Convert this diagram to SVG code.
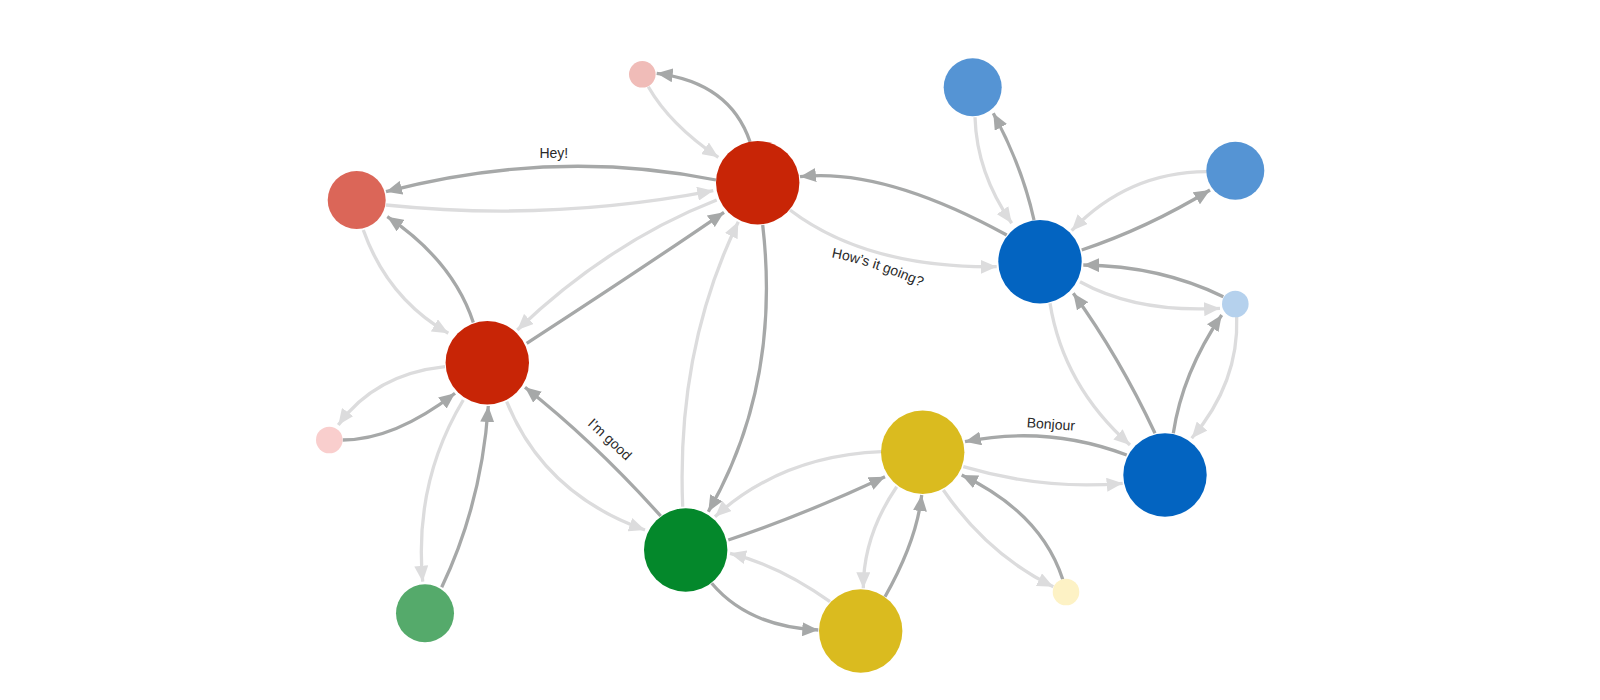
<svg xmlns="http://www.w3.org/2000/svg" width="1600" height="700" viewBox="0 0 1600 700">
<defs>
<style>
.e{fill:none;stroke-width:3.3}
.d{stroke:#a6a8a8;marker-end:url(#ad)}
.l{stroke:#dcdcdd;marker-end:url(#al)}
.t{font-family:"Liberation Sans",Arial,sans-serif;font-size:14px;fill:#2a2a2a}
</style>
<marker id="ad" markerUnits="userSpaceOnUse" markerWidth="16" markerHeight="14" viewBox="0 0 16 14" refX="16" refY="7" orient="auto"><path d="M0,0 L16,7 L0,14 z" fill="#a6a8a8"/></marker>
<marker id="al" markerUnits="userSpaceOnUse" markerWidth="16" markerHeight="14" viewBox="0 0 16 14" refX="16" refY="7" orient="auto"><path d="M0,0 L16,7 L0,14 z" fill="#dcdcdd"/></marker>
<path id="lp" d="M824,256 Q872,264 928,290"/>
</defs>
<rect width="1600" height="700" fill="#fff"/>
<g id="connectors">
<path class="e d" d="M716,180 Q555,147.5 386,191.7"/>
<path class="e l" d="M386,205 Q550.3,222.1 713.3,190.7"/>
<path class="e d" d="M750,141.7 Q730,82.5 656.7,73.3"/>
<path class="e l" d="M648.3,86.7 Q670,124.7 718.3,157.3"/>
<path class="e l" d="M716.7,200 Q609.7,241.7 517.3,330"/>
<path class="e d" d="M526.7,343.3 Q641.4,268.9 724,212.3"/>
<path class="e d" d="M473.3,322.5 Q453,260.8 387.3,216.7"/>
<path class="e l" d="M363.3,230 Q387.5,298.3 448.3,333.3"/>
<path class="e l" d="M445,366.7 Q375,374.2 338.3,425"/>
<path class="e d" d="M342.7,440 Q394.5,440 455,393.3"/>
<path class="e l" d="M463.3,400 Q413.7,482.5 422.7,581.7"/>
<path class="e d" d="M441.7,587.3 Q481.7,503.3 488.3,406"/>
<path class="e l" d="M506.7,401.7 Q544.2,494.2 645,530"/>
<path class="e d" d="M660.7,516 Q593.9,441.7 525,387.3"/>
<path class="e d" d="M762.7,225 Q781.2,385 708.3,511.7"/>
<path class="e l" d="M682.7,506.7 Q676.2,349.2 738.3,221.7"/>
<path class="e d" d="M1006.7,235 Q883.3,167.5 800,176.7"/>
<path class="e l" d="M790,210 Q866.7,268.3 996.7,266.7"/>
<path class="e d" d="M1034,220 Q1022.3,166.7 993.3,113.3"/>
<path class="e l" d="M975,117.3 Q976.7,173 1011.7,223.3"/>
<path class="e d" d="M1081.7,250 Q1147.5,228 1210,190"/>
<path class="e l" d="M1206.7,171.7 Q1127.5,172.2 1071.7,230.7"/>
<path class="e d" d="M1223.3,296.7 Q1160,265.8 1083.3,265"/>
<path class="e l" d="M1080,281.7 Q1136.7,313 1220,308.3"/>
<path class="e l" d="M1050,303.3 Q1063.3,385.8 1130,445"/>
<path class="e d" d="M1155,433.3 Q1119.1,356.7 1073.3,293.3"/>
<path class="e d" d="M1173.3,433.3 Q1182.5,372.5 1221.7,315"/>
<path class="e l" d="M1236.7,316.7 Q1239.1,382.5 1191.7,438.3"/>
<path class="e d" d="M1126.7,455 Q1047.5,425 965,441.7"/>
<path class="e l" d="M963.3,466.7 Q1043.7,490.3 1122.7,483.3"/>
<path class="e l" d="M881.7,451.7 Q781.7,455.8 715,516.7"/>
<path class="e d" d="M728.3,540 Q803.3,515 885,476.7"/>
<path class="e d" d="M711.7,583.3 Q748.3,626.7 818.3,630"/>
<path class="e l" d="M830,601.7 Q780,565.8 730,553.3"/>
<path class="e l" d="M896.7,486.7 Q863.3,535.8 863.3,588.3"/>
<path class="e d" d="M885,596.7 Q916.7,540.8 921.7,495"/>
<path class="e l" d="M943.3,490 Q988.3,555 1053.3,586.7"/>
<path class="e d" d="M1062.7,579.3 Q1041.1,512.8 961.7,475"/>
<text class="t" x="553.8" y="158.3" text-anchor="middle">Hey!</text>
<text class="t" text-anchor="middle"><textPath href="#lp" startOffset="50%">How’s it going?</textPath></text>
<text class="t" text-anchor="middle" transform="translate(606.6,442.7) rotate(43)">I’m good</text>
<text class="t" text-anchor="middle" transform="translate(1050.5,429) rotate(4)">Bonjour</text>
</g>
<g id="n-red-top"><circle cx="757.7" cy="182.7" r="41.7" fill="#c82506"/></g>
<g id="n-salmon"><circle cx="356.7" cy="200" r="29" fill="#db6658"/></g>
<g id="n-pink-top"><circle cx="642.3" cy="74.3" r="13.3" fill="#f0bcb8"/></g>
<g id="n-red-mid"><circle cx="487.3" cy="362.7" r="41.7" fill="#c82506"/></g>
<g id="n-pink-left"><circle cx="329.3" cy="440" r="13.3" fill="#f9cecd"/></g>
<g id="n-green-light"><circle cx="425" cy="613.3" r="29" fill="#55aa6b"/></g>
<g id="n-green"><circle cx="685.7" cy="550" r="41.7" fill="#04882b"/></g>
<g id="n-blue"><circle cx="1040" cy="261.7" r="41.7" fill="#0364c1"/></g>
<g id="n-blue-tl"><circle cx="972.7" cy="87.3" r="29" fill="#5594d4"/></g>
<g id="n-blue-r"><circle cx="1235.3" cy="170.7" r="29" fill="#5594d4"/></g>
<g id="n-blue-pale"><circle cx="1235.3" cy="304" r="13.3" fill="#b5d1ed"/></g>
<g id="n-blue-low"><circle cx="1165" cy="475" r="41.7" fill="#0364c1"/></g>
<g id="n-yellow-top"><circle cx="922.7" cy="452.3" r="41.7" fill="#dabb1f"/></g>
<g id="n-yellow-bot"><circle cx="860.7" cy="631" r="41.7" fill="#dabb1f"/></g>
<g id="n-yellow-pale"><circle cx="1066" cy="592" r="13.3" fill="#fdf2c5"/></g>
</svg>
